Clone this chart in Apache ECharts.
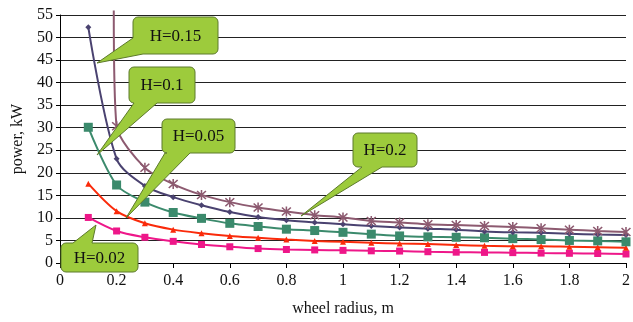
<!DOCTYPE html>
<html>
<head>
<meta charset="utf-8">
<script src="https://cdn.jsdelivr.net/npm/echarts@6/dist/echarts.min.js"></script>
<style>
  html, body { margin: 0; padding: 0; background: #fff; }
  #main { width: 633px; height: 322px; }
</style>
</head>
<body>
<div id="main"></div>
<script>
// 데이터
var radius = [0.1, 0.2, 0.3, 0.4, 0.5, 0.6, 0.7, 0.8, 0.9, 1.0,
              1.1, 1.2, 1.3, 1.4, 1.5, 1.6, 1.7, 1.8, 1.9, 2.0];
var radiusH02 = [0.19, 0.2, 0.3, 0.4, 0.5, 0.6, 0.7, 0.8, 0.9, 1.0,
                 1.1, 1.2, 1.3, 1.4, 1.5, 1.6, 1.7, 1.8, 1.9, 2.0];

var h002 = [10.1, 7.1, 5.7, 4.8, 4.1, 3.6, 3.2, 3.0, 2.9, 2.8, 2.7, 2.65, 2.5, 2.4, 2.35, 2.3, 2.2, 2.15, 2.1, 2.0];
var h005 = [17.6, 11.5, 8.8, 7.4, 6.6, 6.0, 5.6, 5.2, 4.9, 4.7, 4.5, 4.3, 4.2, 4.0, 3.8, 3.7, 3.7, 3.6, 3.5, 3.4];
var h01  = [30.1, 17.3, 13.5, 11.2, 9.9, 8.8, 8.1, 7.5, 7.2, 6.8, 6.4, 6.0, 5.8, 5.7, 5.6, 5.4, 5.2, 5.0, 4.9, 4.7];
var h015 = [52.3, 23.1, 17.1, 14.6, 12.8, 11.3, 10.2, 9.5, 9.0, 8.6, 8.2, 7.9, 7.6, 7.4, 7.0, 6.8, 6.7, 6.5, 6.3, 6.2];
var h02  = [56, 30.3, 21.1, 17.5, 15.1, 13.5, 12.3, 11.4, 10.6, 10.1, 9.3, 9.0, 8.6, 8.4, 8.2, 8.0, 7.7, 7.4, 7.1, 6.9];

var yTicks = { min: 0, max: 55, interval: 5 };
var xTicks = { min: 0, max: 2, interval: 0.2 };

var FONT = '"Liberation Serif", "DejaVu Serif", serif';
var asterisk = 'path://M4.3,0H5.7V10H4.3Z M0.5,1.5L1.5,0.5L9.5,8.5L8.5,9.5Z M8.5,0.5L9.5,1.5L1.5,9.5L0.5,8.5Z';

function pairs(xs, ys) {
  return xs.map(function (x, i) { return [x, ys[i]]; });
}

// 둥근 모서리 호를 점으로
function arc(pts, cx, cy, r, a0, a1) {
  for (var k = 0; k <= 4; k++) {
    var a = a0 + (a1 - a0) * k / 4;
    pts.push([cx + r * Math.cos(a), cy + r * Math.sin(a)]);
  }
}

// 말풍선 모양 (둥근 사각형 + 꼬리)
function calloutPoints(x, y, w, h, side, a, b, tx, ty) {
  var r = 5, P = Math.PI, pts = [];
  arc(pts, x + r, y + r, r, P, 1.5 * P);
  if (side === 'top') pts.push([a, y], [tx, ty], [b, y]);
  arc(pts, x + w - r, y + r, r, 1.5 * P, 2 * P);
  arc(pts, x + w - r, y + h - r, r, 0, 0.5 * P);
  if (side === 'bottom') {
    pts.push([b, y + h], [tx, ty], [a, y + h]);
    arc(pts, x + r, y + h - r, r, 0.5 * P, P);
  } else if (side === 'corner') {
    // a: 아래쪽 변의 x, b: 왼쪽 변의 y
    pts.push([a, y + h], [tx, ty], [x, b]);
  } else {
    arc(pts, x + r, y + h - r, r, 0.5 * P, P);
  }
  return pts;
}

function callout(text, x, y, w, h, side, a, b, tx, ty) {
  return {
    type: 'group',
    children: [
      {
        type: 'polygon',
        z: 100,
        shape: { points: calloutPoints(x, y, w, h, side, a, b, tx, ty) },
        style: { fill: '#9dcb3c', stroke: '#5d7a2c', lineWidth: 1 }
      },
      {
        type: 'text',
        z: 101,
        x: x + w / 2,
        y: y + h / 2 + 1,
        style: {
          text: text, fill: '#111', font: '17px ' + FONT,
          align: 'center', verticalAlign: 'middle'
        }
      }
    ]
  };
}

var myChart = echarts.init(document.getElementById('main'));

var option = {
  animation: false,
  backgroundColor: '#fff',
  grid: { left: 60, right: 6, top: 15, bottom: 58 },
  xAxis: {
    type: 'value',
    min: xTicks.min, max: xTicks.max, interval: xTicks.interval,
    name: 'wheel radius, m',
    nameLocation: 'middle',
    nameGap: 38,
    nameTextStyle: { color: '#111', fontSize: 16, fontFamily: FONT },
    axisLine: { show: true, lineStyle: { color: '#000', width: 1 } },
    axisTick: { show: true, length: 5, lineStyle: { color: '#000' } },
    axisLabel: { color: '#111', fontSize: 16, fontFamily: FONT, margin: 10 },
    splitLine: { show: false }
  },
  yAxis: {
    type: 'value',
    min: yTicks.min, max: yTicks.max, interval: yTicks.interval,
    name: 'power, kW',
    nameLocation: 'middle',
    nameGap: 34,
    nameRotate: 90,
    nameTextStyle: { color: '#111', fontSize: 16, fontFamily: FONT },
    axisLine: { show: true, lineStyle: { color: '#000', width: 1 } },
    axisTick: { show: true, length: 4, lineStyle: { color: '#000' } },
    axisLabel: { color: '#111', fontSize: 16, fontFamily: FONT, margin: 7 },
    splitLine: { show: true, lineStyle: { color: '#222', width: 1 } }
  },
  series: [
    {
      name: 'H=0.02', type: 'line', smooth: 0.3,
      data: pairs(radius, h002),
      symbol: 'rect', symbolSize: 7,
      lineStyle: { color: '#ee1789', width: 2 },
      itemStyle: { color: '#ee1789' }
    },
    {
      name: 'H=0.05', type: 'line', smooth: 0.3,
      data: pairs(radius, h005),
      symbol: 'triangle', symbolSize: 6,
      lineStyle: { color: '#fa2a0a', width: 2 },
      itemStyle: { color: '#fa2a0a' }
    },
    {
      name: 'H=0.1', type: 'line', smooth: 0.3,
      data: pairs(radius, h01),
      symbol: 'rect', symbolSize: 9,
      lineStyle: { color: '#3b8a6c', width: 2 },
      itemStyle: { color: '#3b8a6c' }
    },
    {
      name: 'H=0.15', type: 'line', smooth: 0.3,
      data: pairs(radius, h015),
      symbol: 'diamond', symbolSize: 6,
      lineStyle: { color: '#4a4270', width: 2 },
      itemStyle: { color: '#4a4270' }
    },
    {
      name: 'H=0.2', type: 'line', smooth: 0.25,
      clip: false,
      data: pairs(radiusH02, h02).map(function (d, i) {
        return i === 0 ? { value: d, symbol: 'none' } : d;
      }),
      symbol: asterisk, symbolSize: 10,
      lineStyle: { color: '#8d5a70', width: 2 },
      itemStyle: { color: '#8d5a70' }
    }
  ],
  graphic: [
    callout('H=0.15', 133, 17, 85, 37, 'corner', 143, 38, 97, 63),
    callout('H=0.1', 129, 67, 66, 36, 'bottom', 134, 157, 97, 155),
    callout('H=0.05', 162, 119, 73, 34, 'bottom', 165, 190, 126, 218),
    callout('H=0.2', 353, 133, 64, 34, 'bottom', 362, 382, 301, 216),
    callout('H=0.02', 61, 243, 77, 29, 'top', 73, 92, 96, 225)
  ]
};

myChart.setOption(option);
</script>
</body>
</html>
